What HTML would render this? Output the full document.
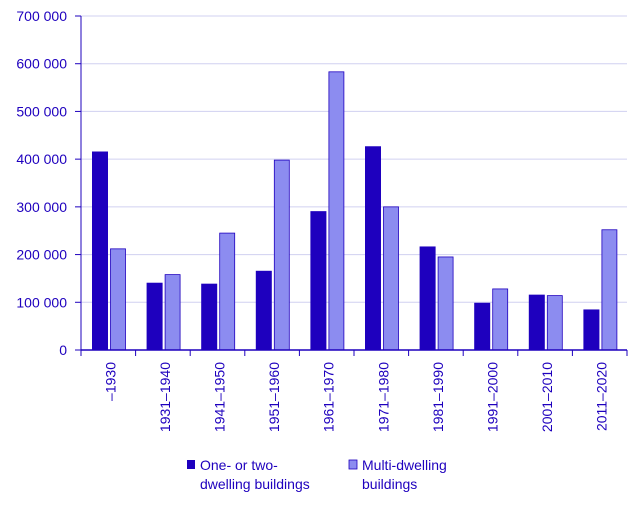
<!DOCTYPE html>
<html><head><meta charset="utf-8"><style>
body{margin:0;background:#fff;font-family:"Liberation Sans",sans-serif}
svg text{font-family:"Liberation Sans",sans-serif;fill:#1e00be;font-size:14px}
</style></head><body>
<svg width="643" height="506">
<g id="grid"></g><g id="bars"></g><g id="axes"></g>
<g>
<rect x="187" y="460" width="8" height="9" fill="#1e00be"/>
<text x="200" y="470">One- or two-</text>
<text x="200" y="489">dwelling buildings</text>
<rect x="349" y="460" width="8" height="9" fill="#8c8cf0" stroke="#1e00be" stroke-width="0.8"/>
<text x="362" y="470">Multi-dwelling</text>
<text x="362" y="489">buildings</text>
</g>
</svg>
<script>
const categories=["\u20131930","1931\u20131940","1941\u20131950","1951\u20131960","1961\u20131970","1971\u20131980","1981\u20131990","1991\u20132000","2001\u20132010","2011\u20132020"];
const oneTwo=[416000,141000,139000,166000,291000,427000,217000,99000,116000,85000];
const multi=[212000,158000,245000,398000,583000,300000,195000,128000,114000,252000];
const yTicks=[0,100000,200000,300000,400000,500000,600000,700000];
const NS="http://www.w3.org/2000/svg";
const X0=81,X1=627,Y0=350,Y1=16,YMAX=700000;
const cw=(X1-X0)/categories.length;
function y(v){return Y0-(v/YMAX)*(Y0-Y1);}
function mk(t,a,p){const e=document.createElementNS(NS,t);for(const k in a)e.setAttribute(k,a[k]);p.appendChild(e);return e;}
const grid=document.getElementById('grid'),bars=document.getElementById('bars'),axes=document.getElementById('axes');
yTicks.forEach(v=>{
 if(v>0){const l=mk('line',{x1:X0,x2:X1,y1:y(v),y2:y(v),stroke:'#d0d0f0','stroke-width':1},grid);
 
 }
 const t=mk('text',{x:X0-14,y:y(v)+5,'text-anchor':'end'},axes);t.textContent=v===0?'0':(v/1000)+' 000';
 
 
 const tk=mk('line',{x1:X0-6,x2:X0,y1:y(v),y2:y(v),stroke:'#1e00be'},axes);
 
 
});
categories.forEach((c,i)=>{
 const cx=X0+cw*i;
 const b1=mk('rect',{x:cx+11,y:y(oneTwo[i]),width:16,height:Y0-y(oneTwo[i]),fill:'#1e00be'},bars);
 
 
 const b2=mk('rect',{x:cx+29.5,y:y(multi[i]),width:15,height:Y0-y(multi[i]),fill:'#8c8cf0',stroke:'#1e00be','stroke-width':0.8},bars);
 
 
 const tk=mk('line',{x1:cx+cw,x2:cx+cw,y1:Y0,y2:Y0+6,stroke:'#1e00be'},axes);
 
 
 const lx=cx+cw/2+7;
 const t=mk('text',{x:lx,y:362,'text-anchor':'end',transform:'rotate(-90 '+lx+' 362)'},axes);t.textContent=c;
 
 
});
const ya=mk('line',{x1:X0,x2:X0,y1:Y1,y2:Y0,stroke:'#1e00be'},axes);


const xa=mk('line',{x1:X0,x2:X1,y1:Y0,y2:Y0,stroke:'#1e00be','stroke-width':1.5},axes);


const t0=mk('line',{x1:X0,x2:X0,y1:Y0,y2:Y0+6,stroke:'#1e00be'},axes);


</script>
</body></html>
